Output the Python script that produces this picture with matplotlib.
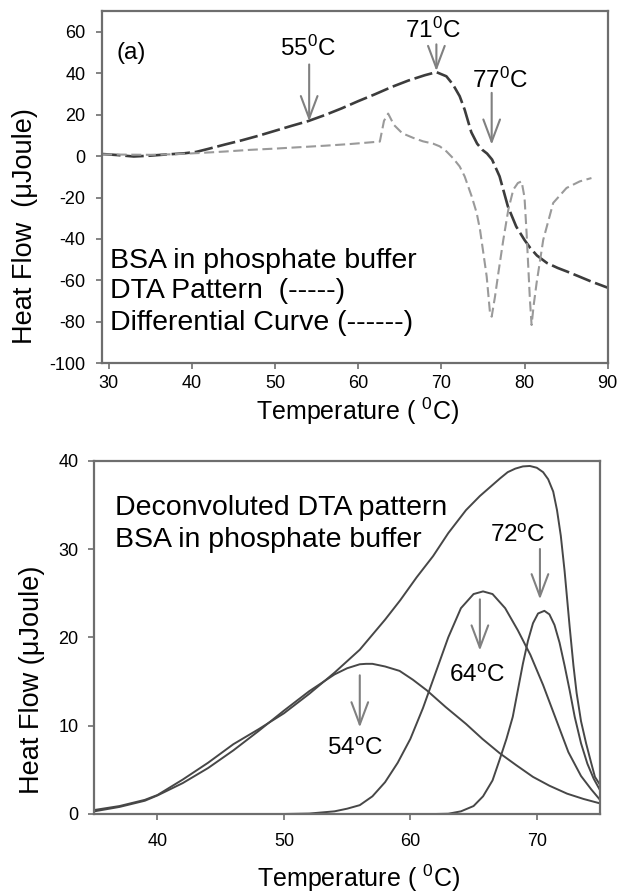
import matplotlib
matplotlib.use('Agg')
import matplotlib.pyplot as plt

plt.rcParams['font.family'] = ['Liberation Sans', 'DejaVu Sans']
plt.rcParams['mathtext.fontset'] = 'custom'
plt.rcParams['mathtext.rm'] = 'Liberation Sans'
plt.rcParams['mathtext.it'] = 'Liberation Sans'
plt.rcParams['axes.unicode_minus'] = False

# ---- panel (a): DTA pattern and differential curve ----
dta_temp = [29.2, 31, 33, 35, 37, 39, 40.5, 42, 44, 46, 48, 50, 52, 54, 56, 58, 60, 62, 64,
            66, 68, 69.4, 70.6, 71.4, 72.2, 72.8, 73.6, 74.3, 74.9, 75.5, 76.1, 77.0, 78.0,
            79.0, 80.0, 80.7, 81.5, 82.7, 84, 85.1, 86.5, 88, 90]
dta_flow = [1.0, 0.5, -0.2, 0.2, 0.8, 1.3, 2.0, 3.5, 5.6, 7.6, 9.8, 12.2, 14.6, 16.9, 19.8,
            23.0, 26.5, 29.8, 33.3, 36.4, 39.0, 40.5, 38.5, 34.5, 28.9, 22.4, 11.5, 6.0, 3.1,
            1.2, -1.7, -9.8, -24.3, -34.0, -40.5, -44.4, -48.0, -51.6, -54.0, -55.7, -58.0,
            -60.5, -63.5]

diff_temp = [29.2, 32, 35, 38, 41, 44, 47, 50, 53, 56, 59, 62.6, 63.1, 63.6, 64.3, 65.3,
             66.6, 67.8, 69.0, 69.8, 70.6, 71.4, 72.2, 72.8, 73.65, 74.25, 74.65, 75.05,
             75.45, 75.85, 76.05, 76.45, 76.85, 77.45, 78.05, 78.65, 79.2, 79.65, 80.0,
             80.25, 80.65, 80.85, 81.1, 81.45, 82.25, 83.45, 85.05, 86.65, 88.05]
diff_flow = [0.8, 0.7, 0.6, 0.9, 1.5, 2.2, 3.0, 3.6, 4.3, 5.0, 5.8, 7.0, 17.0, 20.5, 15.0,
             11.0, 8.8, 7.1, 6.0, 4.7, 2.3, -1.0, -5.0, -9.8, -19.5, -27.5, -35.6, -46.8,
             -58.1, -75.8, -77.5, -67.8, -56.5, -40.4, -25.9, -16.2, -13.0, -12.2, -20.0,
             -37.2, -69.4, -81.5, -72.0, -61.3, -40.4, -22.6, -15.4, -12.2, -10.6]

# arrows: (label, x, tail y, tip y, text x, text baseline y)
top_marks = [('55', 54.1, 44.2, 16.8, 54.0, 48.2),
             ('71', 69.4, 53.9, 41.0, 69.0, 57.1),
             ('77', 76.05, 30.5, 5.5, 77.1, 33.0)]

# ---- panel (b): deconvoluted DTA pattern ----
tot_temp = [35, 37, 39, 40, 42, 44, 46, 48, 50, 52, 54, 56, 58, 59.2, 60.5, 61.8, 63, 64.4,
            65.5, 67.1, 67.7, 68.3, 68.9, 69.45, 70.0, 70.5, 70.9, 71.3, 71.6, 71.9, 72.2,
            72.6, 72.9, 73.15, 73.5, 73.9, 74.3, 74.6, 75]
tot_flow = [0.45, 0.9, 1.6, 2.15, 3.9, 5.8, 7.9, 9.6, 11.4, 13.6, 16.0, 18.6, 22.0, 24.2,
            26.8, 29.2, 31.8, 34.4, 36.0, 38.0, 38.7, 39.1, 39.35, 39.4, 39.2, 38.7, 37.9,
            36.5, 34.4, 31.5, 27.5, 21.2, 16.8, 13.7, 10.5, 8.0, 5.8, 4.2, 3.3]

p1_temp = [35, 37, 39, 40, 42, 44, 46, 48, 50, 52, 54, 55, 56, 56.5, 57, 58, 59.15, 60.2,
           61.3, 62.8, 64.4, 65.7, 67.05, 68.4, 69.7, 71, 72.4, 73.7, 75]
p1_flow = [0.3, 0.8, 1.5, 2.1, 3.5, 5.2, 7.2, 9.4, 11.7, 13.9, 15.8, 16.5, 16.95, 17.0, 17.0,
           16.7, 16.2, 15.2, 14.0, 12.1, 10.2, 8.5, 6.9, 5.5, 4.2, 3.2, 2.3, 1.7, 1.2]

p2_temp = [50, 52, 54, 55, 56, 57, 58, 59, 60, 61, 62, 63, 64, 65, 65.75, 66.5, 67.5, 68.5,
           69.5, 70.5, 71.5, 72.5, 73.5, 74.3, 75]
p2_flow = [0.0, 0.05, 0.3, 0.6, 1.0, 2.0, 3.6, 5.8, 8.5, 12.0, 16.0, 20.0, 23.3, 24.9,
           25.2, 24.9, 23.3, 20.8, 18.0, 14.6, 10.8, 7.0, 4.3, 2.8, 1.6]

p3_temp = [62, 63, 64, 65, 65.75, 66.5, 67.05, 67.6, 68.1, 68.5, 68.9, 69.3, 69.7, 70.1,
           70.6, 71.0, 71.4, 71.8, 72.2, 72.6, 73.0, 73.5, 74.0, 74.5, 75]
p3_flow = [0.0, 0.03, 0.3, 0.9, 2.0, 3.8, 6.1, 8.5, 11.0, 14.0, 17.0, 19.6, 21.6, 22.7,
           23.0, 22.6, 21.4, 19.4, 16.8, 14.0, 11.0, 8.0, 5.7, 4.0, 2.7]

bottom_marks = [('54', 56.0, 15.7, 9.8, 55.6, 6.7),
                ('64', 65.5, 24.3, 18.5, 65.3, 14.9),
                ('72', 70.25, 30.0, 24.3, 68.5, 30.75)]

SPINE = '#6e6e6e'
ARROW = '#808080'


def style_axes(ax, xpad):
    for sp in ax.spines.values():
        sp.set_color(SPINE)
        sp.set_linewidth(1.6)
    ax.tick_params(direction='out', length=4.5, width=1.2, color=SPINE,
                   labelsize=13, top=False, right=False)
    ax.tick_params(axis='x', pad=xpad)
    ax.tick_params(axis='y', pad=7)


def draw_arrow(ax, x, y_tail, y_tip):
    ax.annotate('', xy=(x, y_tip), xytext=(x, y_tail),
                arrowprops=dict(arrowstyle='->, head_length=0.8, head_width=0.3',
                                color=ARROW, lw=1.5, shrinkA=0, shrinkB=0,
                                mutation_scale=20))


fig = plt.figure(figsize=(6.19, 8.94), dpi=100)

# panel (a)
ax1 = fig.add_axes([0.1643, 0.5936, 0.8174, 0.3941])
ax1.plot(dta_temp, dta_flow, color='#3c3c3c', lw=1.9, dashes=(7, 1.8))
ax1.plot(diff_temp, diff_flow, color='#9a9a9a', lw=1.5, dashes=(4.8, 2.2))
ax1.set_xlim(29.15, 90)
ax1.set_ylim(-100, 70)
ax1.set_xticks(range(30, 91, 10))
ax1.set_yticks(range(-100, 61, 20))
style_axes(ax1, 4)
for lab, x, yt, yp, tx, ty in top_marks:
    draw_arrow(ax1, x, yt, yp)
    ax1.text(tx, ty, lab + r'$^{\mathrm{0}}$C', fontsize=17.5, ha='center', va='baseline')
ax1.text(30.95, 46.6, '(a)', fontsize=17.5, ha='left', va='baseline')
ax1.text(30.1, -54.1, 'BSA in phosphate buffer', fontsize=20.5, va='baseline')
ax1.text(30.1, -68.6, 'DTA Pattern  (-----)', fontsize=20.5, va='baseline')
ax1.text(30.1, -83.9, 'Differential Curve (------)', fontsize=20.5, va='baseline')
ax1.set_xlabel(r'Temperature ( $^{\mathrm{0}}$C)', fontsize=18)
ax1.set_ylabel('Heat Flow  (\u03bcJoule)', fontsize=19.5)
ax1.xaxis.set_label_coords(0.506, -0.092)
ax1.yaxis.set_label_coords(-0.126, 0.39)

# panel (b)
ax2 = fig.add_axes([0.1523, 0.0895, 0.817, 0.3952])
for xs, ys in [(tot_temp, tot_flow), (p1_temp, p1_flow), (p2_temp, p2_flow),
               (p3_temp, p3_flow)]:
    ax2.plot(xs, ys, color='#474747', lw=1.4)
ax2.set_xlim(35, 75)
ax2.set_ylim(0, 40)
ax2.set_xticks([40, 50, 60, 70])
ax2.set_yticks([0, 10, 20, 30, 40])
style_axes(ax2, 9)
for lab, x, yt, yp, tx, ty in bottom_marks:
    draw_arrow(ax2, x, yt, yp)
    ax2.text(tx, ty, lab + r'$^{\mathrm{o}}$C', fontsize=17.5, ha='center', va='baseline')
ax2.text(36.66, 33.8, 'Deconvoluted DTA pattern', fontsize=20.5, va='baseline')
ax2.text(36.66, 30.2, 'BSA in phosphate buffer', fontsize=20.5, va='baseline')
ax2.set_xlabel(r'Temperature ( $^{\mathrm{0}}$C)', fontsize=18)
ax2.set_ylabel('Heat Flow (\u03bcJoule)', fontsize=19.5)
ax2.xaxis.set_label_coords(0.522, -0.139)
ax2.yaxis.set_label_coords(-0.0975, 0.38)

fig.savefig('out.png', dpi=100)
